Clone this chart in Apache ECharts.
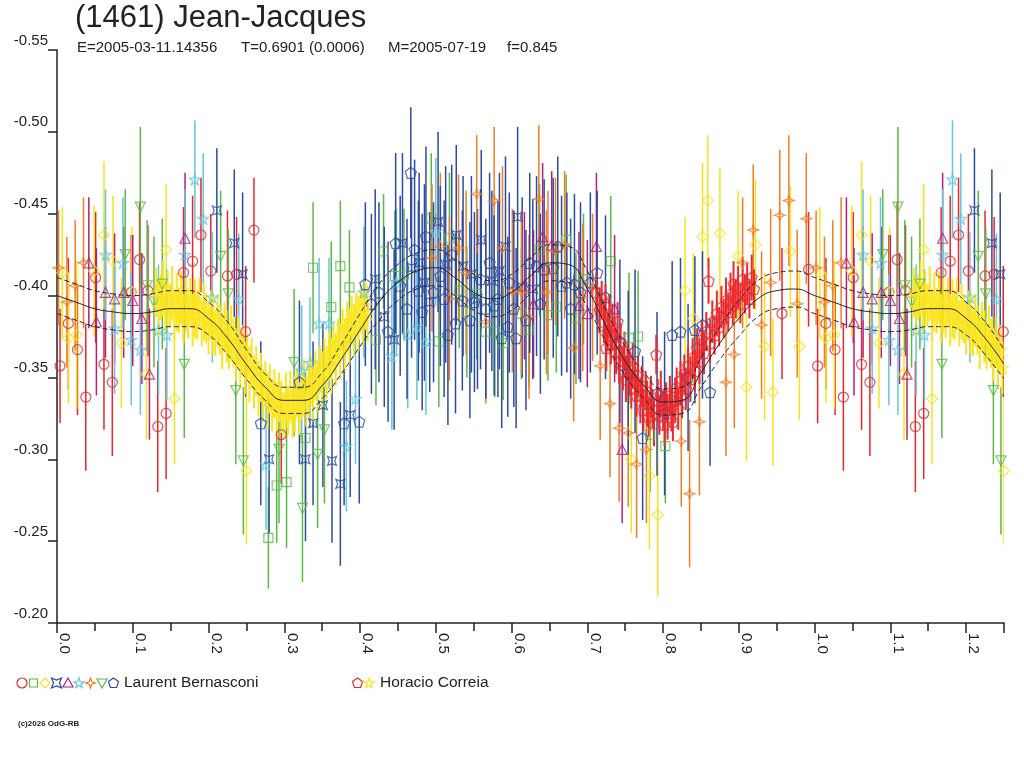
<!DOCTYPE html>
<html>
<head>
<meta charset="utf-8">
<title>(1461) Jean-Jacques</title>
<script src="https://cdn.jsdelivr.net/npm/echarts@6/dist/echarts.min.js"></script>
<style>
  html, body { margin: 0; padding: 0; background: #fff; }
  #chart { width: 1024px; height: 768px; }
</style>
</head>
<body>
<div id="chart"></div>
<script>
// observations: [phase, magnitude, error]
// Laurent Bernasconi
var lbCircle = [
  [0.004,-0.357,0.035],[0.015,-0.383,0.040],[0.027,-0.367,0.040],[0.038,-0.338,0.045],[0.051,-0.411,0.040],
  [0.062,-0.358,0.040],[0.073,-0.347,0.045],[0.098,-0.402,0.035],[0.109,-0.422,0.035],[0.120,-0.403,0.040],
  [0.133,-0.320,0.040],[0.144,-0.328,0.040],[0.167,-0.414,0.040],[0.179,-0.421,0.040],[0.190,-0.437,0.035],
  [0.203,-0.415,0.035],[0.225,-0.412,0.040],[0.237,-0.413,0.035],[0.249,-0.378,0.040],[0.260,-0.440,0.032],
  [0.296,-0.315,0.030],[0.957,-0.389,0.040],[0.992,-0.416,0.035]
];
var lbSquare = [
  [0.279,-0.252,0.031],[0.290,-0.284,0.035],[0.303,-0.286,0.040],[0.328,-0.313,0.040],[0.338,-0.417,0.040],
  [0.362,-0.393,0.040],[0.374,-0.418,0.040],[0.386,-0.405,0.035],[0.421,-0.373,0.040],[0.431,-0.427,0.035],
  [0.446,-0.412,0.040],[0.458,-0.413,0.040],[0.494,-0.447,0.040],[0.504,-0.372,0.040],[0.518,-0.435,0.040],
  [0.531,-0.403,0.035],[0.541,-0.390,0.040],[0.554,-0.401,0.040],[0.566,-0.378,0.040],[0.578,-0.378,0.040],
  [0.589,-0.371,0.035],[0.613,-0.389,0.040],[0.623,-0.379,0.035],[0.637,-0.428,0.040],[0.648,-0.388,0.040],
  [0.659,-0.393,0.040],[0.672,-0.434,0.040],[0.685,-0.386,0.040],[0.695,-0.410,0.040],[0.731,-0.421,0.040],
  [0.755,-0.374,0.040],[0.767,-0.375,0.040],[0.783,-0.315,0.035],[0.803,-0.308,0.035]
];
var lbDiamond = [
  [0.007,-0.414,0.040],[0.015,-0.374,0.040],[0.026,-0.376,0.045],[0.049,-0.415,0.040],[0.062,-0.437,0.045],
  [0.074,-0.421,0.040],[0.085,-0.371,0.040],[0.099,-0.402,0.040],[0.118,-0.352,0.040],[0.144,-0.428,0.040],
  [0.155,-0.337,0.040],[0.250,-0.293,0.045],[0.758,-0.300,0.045],[0.782,-0.290,0.045],[0.793,-0.266,0.050],
  [0.829,-0.403,0.045],[0.840,-0.386,0.040],[0.852,-0.436,0.045],[0.859,-0.458,0.040],[0.875,-0.438,0.040],
  [0.899,-0.424,0.040],[0.910,-0.344,0.045],[0.922,-0.431,0.040],[0.934,-0.369,0.045],[0.945,-0.341,0.045],
  [0.968,-0.427,0.040],[0.980,-0.369,0.045]
];
var lbBowtie = [
  [0.211,-0.452,0.038],[0.234,-0.432,0.045],[0.245,-0.413,0.050],[0.280,-0.300,0.045],[0.328,-0.300,0.050],
  [0.338,-0.322,0.050],[0.351,-0.333,0.050],[0.363,-0.299,0.050],[0.374,-0.285,0.050],[0.387,-0.327,0.050],
  [0.420,-0.410,0.055],[0.432,-0.387,0.055],[0.445,-0.373,0.055],[0.456,-0.432,0.055],[0.468,-0.417,0.055],
  [0.478,-0.420,0.055],[0.485,-0.408,0.060],[0.492,-0.396,0.055],[0.503,-0.445,0.055],[0.513,-0.419,0.060],
  [0.527,-0.437,0.055],[0.536,-0.418,0.055],[0.547,-0.413,0.060],[0.555,-0.398,0.055],[0.560,-0.434,0.055],
  [0.574,-0.409,0.055],[0.584,-0.415,0.060],[0.592,-0.430,0.055],[0.608,-0.448,0.055],[0.614,-0.405,0.055],
  [0.628,-0.404,0.055]
];
var lbTriangle = [
  [0.042,-0.420,0.040],[0.052,-0.384,0.045],[0.064,-0.402,0.040],[0.076,-0.398,0.040],[0.088,-0.402,0.040],
  [0.100,-0.397,0.040],[0.112,-0.386,0.040],[0.122,-0.352,0.040],[0.169,-0.435,0.040],[0.617,-0.406,0.045],
  [0.629,-0.395,0.045],[0.641,-0.436,0.045],[0.653,-0.431,0.045],[0.689,-0.394,0.045],[0.700,-0.389,0.045],
  [0.712,-0.430,0.045],[0.736,-0.392,0.045],[0.746,-0.306,0.045]
];
var lbStar = [
  [0.064,-0.425,0.040],[0.076,-0.380,0.040],[0.087,-0.420,0.040],[0.098,-0.373,0.040],[0.110,-0.367,0.040],
  [0.134,-0.379,0.040],[0.145,-0.376,0.040],[0.169,-0.425,0.040],[0.182,-0.471,0.036],[0.193,-0.447,0.040],
  [0.205,-0.399,0.040],[0.240,-0.398,0.040],[0.276,-0.297,0.040],[0.323,-0.354,0.040],[0.334,-0.359,0.040],
  [0.346,-0.383,0.040],[0.359,-0.383,0.040],[0.382,-0.308,0.040],[0.394,-0.337,0.040],[0.405,-0.402,0.040],
  [0.442,-0.363,0.045],[0.448,-0.408,0.045],[0.463,-0.376,0.045],[0.475,-0.381,0.045],[0.487,-0.372,0.045],
  [0.500,-0.439,0.045]
];
var lbSpark = [
  [0.002,-0.417,0.035],[0.013,-0.396,0.040],[0.024,-0.406,0.040],[0.035,-0.420,0.040],[0.495,-0.423,0.045],
  [0.506,-0.430,0.045],[0.518,-0.398,0.050],[0.530,-0.429,0.045],[0.540,-0.414,0.050],[0.554,-0.462,0.036],
  [0.566,-0.384,0.050],[0.577,-0.458,0.045],[0.588,-0.429,0.050],[0.601,-0.403,0.050],[0.613,-0.402,0.050],
  [0.623,-0.387,0.050],[0.636,-0.459,0.045],[0.646,-0.402,0.050],[0.648,-0.414,0.050],[0.658,-0.427,0.045],
  [0.670,-0.431,0.045],[0.682,-0.368,0.045],[0.694,-0.399,0.045],[0.707,-0.405,0.045],[0.717,-0.357,0.045],
  [0.730,-0.334,0.045],[0.742,-0.319,0.045],[0.754,-0.316,0.045],[0.765,-0.297,0.045],[0.778,-0.306,0.045],
  [0.824,-0.311,0.040],[0.835,-0.279,0.045],[0.848,-0.323,0.045],[0.883,-0.347,0.045],[0.894,-0.364,0.045],
  [0.905,-0.420,0.040],[0.919,-0.440,0.040],[0.930,-0.382,0.045],[0.942,-0.408,0.045],[0.954,-0.449,0.040],
  [0.966,-0.458,0.040],[0.977,-0.395,0.045],[0.989,-0.447,0.040]
];
var lbDown = [
  [0.090,-0.425,0.040],[0.110,-0.454,0.049],[0.119,-0.406,0.040],[0.128,-0.396,0.040],[0.139,-0.407,0.040],
  [0.168,-0.358,0.045],[0.216,-0.424,0.040],[0.226,-0.401,0.040],[0.236,-0.342,0.045],[0.246,-0.299,0.045],
  [0.293,-0.306,0.045],[0.313,-0.359,0.045],[0.324,-0.270,0.045],[0.344,-0.303,0.045],[0.353,-0.318,0.045]
];
var lbPentagon = [
  [0.269,-0.322,0.050],[0.320,-0.347,0.050],[0.379,-0.322,0.050],[0.399,-0.323,0.050],[0.407,-0.407,0.050],
  [0.415,-0.395,0.055],[0.425,-0.402,0.055],[0.437,-0.378,0.055],[0.447,-0.432,0.055],[0.453,-0.406,0.055],
  [0.462,-0.392,0.055],[0.467,-0.475,0.040],[0.472,-0.428,0.055],[0.477,-0.403,0.055],[0.482,-0.390,0.060],
  [0.487,-0.436,0.055],[0.497,-0.402,0.055],[0.506,-0.412,0.055],[0.511,-0.398,0.060],[0.516,-0.376,0.055],
  [0.521,-0.425,0.055],[0.526,-0.383,0.055],[0.535,-0.397,0.055],[0.545,-0.385,0.060],[0.551,-0.396,0.055],
  [0.559,-0.410,0.055],[0.566,-0.392,0.055],[0.571,-0.420,0.055],[0.577,-0.394,0.055],[0.582,-0.398,0.060],
  [0.587,-0.374,0.055],[0.595,-0.381,0.055],[0.597,-0.408,0.055],[0.603,-0.392,0.060],[0.606,-0.374,0.055],
  [0.619,-0.385,0.055],[0.624,-0.420,0.055],[0.633,-0.418,0.055],[0.638,-0.395,0.055],[0.643,-0.416,0.055],
  [0.655,-0.417,0.055],[0.661,-0.430,0.055],[0.666,-0.406,0.055],[0.673,-0.408,0.055],[0.678,-0.392,0.055],
  [0.683,-0.407,0.055],[0.691,-0.402,0.055],[0.704,-0.408,0.055],[0.713,-0.414,0.050],[0.724,-0.399,0.050],
  [0.743,-0.372,0.050],[0.754,-0.353,0.050],[0.763,-0.366,0.050],[0.773,-0.313,0.050],[0.792,-0.340,0.050],
  [0.802,-0.328,0.050],[0.812,-0.376,0.045],[0.823,-0.378,0.045],[0.833,-0.350,0.045],[0.842,-0.379,0.045],
  [0.852,-0.382,0.045],[0.862,-0.341,0.045]
];
// Horacio Correia
var hcPentagon = [
  [0.712,-0.402,0.012],[0.716,-0.391,0.014],[0.719,-0.398,0.011],[0.722,-0.384,0.013],[0.724,-0.395,0.012],
  [0.725,-0.368,0.014],[0.727,-0.378,0.012],[0.729,-0.388,0.013],[0.731,-0.370,0.012],[0.733,-0.381,0.014],
  [0.736,-0.375,0.012],[0.738,-0.365,0.013],[0.740,-0.384,0.012],[0.742,-0.360,0.014],[0.744,-0.371,0.012],
  [0.747,-0.355,0.013],[0.749,-0.366,0.012],[0.751,-0.349,0.014],[0.753,-0.360,0.012],[0.756,-0.352,0.013],
  [0.758,-0.343,0.012],[0.760,-0.357,0.014],[0.763,-0.347,0.012],[0.765,-0.339,0.013],[0.767,-0.351,0.012],
  [0.770,-0.336,0.014],[0.772,-0.345,0.012],[0.774,-0.330,0.013],[0.777,-0.342,0.012],[0.779,-0.334,0.014],
  [0.781,-0.326,0.012],[0.784,-0.338,0.013],[0.786,-0.331,0.012],[0.788,-0.322,0.014],[0.791,-0.364,0.012],
  [0.793,-0.336,0.013],[0.795,-0.327,0.012],[0.797,-0.340,0.014],[0.800,-0.330,0.012],[0.802,-0.321,0.013],
  [0.804,-0.335,0.012],[0.806,-0.326,0.014],[0.809,-0.339,0.012],[0.811,-0.330,0.013],[0.813,-0.323,0.012],
  [0.816,-0.336,0.014],[0.818,-0.344,0.012],[0.820,-0.331,0.013],[0.823,-0.348,0.012],[0.825,-0.339,0.014],
  [0.828,-0.352,0.012],[0.830,-0.343,0.013],[0.833,-0.357,0.012],[0.836,-0.349,0.014],[0.839,-0.362,0.012],
  [0.842,-0.354,0.013],[0.845,-0.368,0.012],[0.848,-0.360,0.014],[0.851,-0.373,0.012],[0.854,-0.365,0.013],
  [0.857,-0.378,0.012],[0.860,-0.409,0.014],[0.862,-0.371,0.012],[0.865,-0.384,0.013],[0.868,-0.376,0.012],
  [0.871,-0.389,0.014],[0.874,-0.381,0.012],[0.877,-0.393,0.013],[0.880,-0.386,0.012],[0.883,-0.397,0.014],
  [0.886,-0.390,0.012],[0.889,-0.401,0.013],[0.892,-0.394,0.012],[0.893,-0.407,0.014],[0.896,-0.398,0.012],
  [0.899,-0.405,0.013],[0.902,-0.395,0.012],[0.905,-0.410,0.014],[0.908,-0.401,0.012],[0.911,-0.407,0.013],
  [0.914,-0.398,0.012],[0.917,-0.411,0.014],[0.920,-0.404,0.012]
];
var hcStar = [
  [0.131,-0.402,0.015],[0.134,-0.393,0.018],[0.137,-0.399,0.014],[0.140,-0.405,0.016],[0.143,-0.391,0.015],
  [0.146,-0.398,0.017],[0.149,-0.394,0.013],[0.152,-0.402,0.016],[0.155,-0.388,0.015],[0.158,-0.396,0.018],
  [0.161,-0.391,0.014],[0.164,-0.399,0.016],[0.167,-0.386,0.015],[0.170,-0.394,0.017],[0.173,-0.389,0.015],
  [0.176,-0.397,0.014],[0.179,-0.385,0.016],[0.182,-0.392,0.018],[0.185,-0.388,0.015],[0.188,-0.395,0.016],
  [0.191,-0.383,0.014],[0.194,-0.390,0.017],[0.197,-0.386,0.015],[0.200,-0.380,0.016],[0.203,-0.388,0.015],
  [0.206,-0.382,0.018],[0.209,-0.377,0.014],[0.212,-0.385,0.016],[0.215,-0.379,0.015],[0.218,-0.372,0.017],
  [0.221,-0.381,0.015],[0.224,-0.375,0.016],[0.227,-0.369,0.014],[0.230,-0.377,0.017],[0.233,-0.371,0.015],
  [0.236,-0.364,0.016],[0.239,-0.372,0.015],[0.242,-0.360,0.017],[0.245,-0.367,0.015],[0.248,-0.356,0.016],
  [0.251,-0.363,0.014],[0.254,-0.352,0.017],[0.257,-0.359,0.015],[0.260,-0.347,0.016],[0.263,-0.354,0.015],
  [0.266,-0.343,0.017],[0.269,-0.350,0.015],[0.272,-0.339,0.016],[0.275,-0.346,0.014],[0.278,-0.336,0.017],
  [0.281,-0.343,0.015],[0.284,-0.333,0.016],[0.287,-0.340,0.015],[0.290,-0.330,0.017],[0.293,-0.338,0.015],
  [0.296,-0.332,0.016],[0.299,-0.327,0.014],[0.302,-0.336,0.017],[0.305,-0.330,0.015],[0.308,-0.338,0.016],
  [0.311,-0.328,0.015],[0.314,-0.334,0.017],[0.317,-0.341,0.015],[0.320,-0.331,0.016],[0.323,-0.338,0.014],
  [0.326,-0.344,0.017],[0.329,-0.335,0.015],[0.332,-0.342,0.016],[0.335,-0.348,0.015],[0.338,-0.340,0.017],
  [0.341,-0.351,0.015],[0.344,-0.345,0.016],[0.347,-0.355,0.014],[0.350,-0.349,0.017],[0.353,-0.359,0.015],
  [0.356,-0.353,0.016],[0.359,-0.363,0.015],[0.362,-0.357,0.017],[0.365,-0.368,0.015],[0.368,-0.361,0.016],
  [0.371,-0.372,0.014],[0.374,-0.366,0.017],[0.377,-0.377,0.015],[0.380,-0.370,0.016],[0.383,-0.381,0.015],
  [0.386,-0.375,0.017],[0.389,-0.385,0.015],[0.392,-0.379,0.016],[0.395,-0.388,0.014],[0.398,-0.383,0.017],
  [0.401,-0.392,0.015],[0.404,-0.386,0.016],[0.407,-0.394,0.015],[0.410,-0.389,0.017]
];

// fitted light curve, phase 0 .. 1 step 0.025
var fitPhase = [0,0.025,0.05,0.075,0.1,0.125,0.15,0.175,0.2,0.225,0.25,0.275,0.3,0.325,0.35,0.375,0.4,
  0.425,0.45,0.475,0.5,0.525,0.55,0.575,0.6,0.625,0.65,0.675,0.7,0.725,0.75,0.775,0.8,0.825,0.85,0.875,
  0.9,0.925,0.95,0.975,1.0];
var fitMid = [-0.400,-0.396,-0.392,-0.390,-0.389,-0.390,-0.392,-0.392,-0.386,-0.374,-0.358,-0.344,-0.336,
  -0.336,-0.345,-0.361,-0.379,-0.396,-0.408,-0.415,-0.417,-0.411,-0.402,-0.398,-0.402,-0.412,-0.420,-0.419,
  -0.404,-0.381,-0.360,-0.345,-0.335,-0.336,-0.353,-0.371,-0.386,-0.398,-0.403,-0.404,-0.400];
var fitUpper = [-0.411,-0.407,-0.403,-0.401,-0.400,-0.401,-0.403,-0.403,-0.396,-0.384,-0.367,-0.352,-0.344,
  -0.344,-0.353,-0.370,-0.389,-0.407,-0.419,-0.426,-0.428,-0.422,-0.413,-0.409,-0.413,-0.423,-0.431,-0.430,
  -0.415,-0.391,-0.369,-0.353,-0.343,-0.344,-0.362,-0.381,-0.397,-0.409,-0.414,-0.415,-0.411];
var fitLower = [-0.389,-0.385,-0.381,-0.379,-0.378,-0.379,-0.381,-0.381,-0.376,-0.364,-0.349,-0.336,-0.328,
  -0.328,-0.337,-0.352,-0.369,-0.385,-0.397,-0.404,-0.406,-0.400,-0.391,-0.387,-0.391,-0.401,-0.409,-0.408,
  -0.393,-0.371,-0.351,-0.337,-0.327,-0.328,-0.344,-0.361,-0.375,-0.387,-0.392,-0.393,-0.389];

var xTickLabels = ['0.0','0.1','0.2','0.3','0.4','0.5','0.6','0.7','0.8','0.9','1.0','1.1','1.2'];

var FONT = '"Liberation Sans", Arial, sans-serif';
var INK = '#222';

// symbol outlines in a 10x10 box
var shapes = {
  bowtie:   [[0,0],[5,2],[10,0],[8,5],[10,10],[5,8],[0,10],[2,5]],
  triangle: [[5,0],[10,9],[0,9]],
  down:     [[0,1],[10,1],[5,10]],
  diamond:  [[5,0],[10,5],[5,10],[0,5]],
  rect:     [[1,1],[9,1],[9,9],[1,9]],
  star:     [[5,0],[6.2,3.6],[10,3.7],[7,6],[8.1,9.6],[5,7.5],[1.9,9.6],[3,6],[0,3.7],[3.8,3.6]],
  spark:    [[5,0],[6.3,3.7],[10,5],[6.3,6.3],[5,10],[3.7,6.3],[0,5],[3.7,3.7]],
  pentagon: [[5,0],[10,3.6],[8.1,9.5],[1.9,9.5],[0,3.6]]
};
function toPath(pts) {
  return 'path://M' + pts.map(function (p) { return p.join(','); }).join('L') + 'Z';
}

var groups = [
  { name: 'lbCircle',   data: lbCircle,   color: '#e8262b', shape: 'circle',   size: 10, who: 'lb' },
  { name: 'lbSquare',   data: lbSquare,   color: '#5ab946', shape: 'rect',     size: 9,  who: 'lb' },
  { name: 'lbDiamond',  data: lbDiamond,  color: '#f7e31b', shape: 'diamond',  size: 11, who: 'lb' },
  { name: 'lbBowtie',   data: lbBowtie,   color: '#2d4b9e', shape: 'bowtie',   size: 9,  who: 'lb' },
  { name: 'lbTriangle', data: lbTriangle, color: '#b0217c', shape: 'triangle', size: 10, who: 'lb' },
  { name: 'lbStar',     data: lbStar,     color: '#66c6de', shape: 'star',     size: 11, who: 'lb' },
  { name: 'lbSpark',    data: lbSpark,    color: '#f27d24', shape: 'spark',    size: 11, who: 'lb' },
  { name: 'lbDown',     data: lbDown,     color: '#5ab946', shape: 'down',     size: 10, who: 'lb' },
  { name: 'lbPentagon', data: lbPentagon, color: '#2d4b9e', shape: 'pentagon', size: 11, who: 'lb' },
  { name: 'hcPentagon', data: hcPentagon, color: '#ec2a2e', shape: 'pentagon', size: 11, who: 'hc' },
  { name: 'hcStar',     data: hcStar,     color: '#fbe51d', shape: 'star',     size: 12, who: 'hc' }
];

// the plot repeats phase 0..0.25 after 1.0
function wrap(arr) {
  return arr.concat(arr.filter(function (d) { return d[0] <= 0.25; })
    .map(function (d) { return [d[0] + 1, d[1], d[2]]; }));
}
function wrapCurve(ys) {
  var out = fitPhase.map(function (p, i) { return [p, ys[i]]; });
  for (var i = 1; i < fitPhase.length && fitPhase[i] <= 0.25; i++) {
    out.push([fitPhase[i] + 1, ys[i]]);
  }
  return out;
}

function barSeries(g, width) {
  return {
    type: 'custom',
    name: g.name + 'Err',
    data: wrap(g.data),
    encode: { x: 0, y: 1 },
    clip: true,
    silent: true,
    renderItem: function (params, api) {
      var x = api.value(0), y = api.value(1), e = api.value(2);
      var a = api.coord([x, y - e]);
      var b = api.coord([x, y + e]);
      return {
        type: 'line',
        shape: { x1: a[0], y1: a[1], x2: b[0], y2: b[1] },
        style: { stroke: g.color, lineWidth: width }
      };
    }
  };
}
function symbolSeries(g) {
  return {
    type: 'scatter',
    name: g.name,
    data: wrap(g.data).map(function (d) { return [d[0], d[1]]; }),
    symbol: g.shape === 'circle' ? 'circle' : toPath(shapes[g.shape]),
    symbolSize: g.size,
    itemStyle: { color: 'rgba(0,0,0,0)', borderColor: g.color, borderWidth: 1.2 },
    silent: true,
    clip: true
  };
}
function curveSeries(ys, dashed) {
  return {
    type: 'line',
    data: wrapCurve(ys),
    smooth: true,
    showSymbol: false,
    silent: true,
    lineStyle: { color: INK, width: 1, type: dashed ? [5, 3] : 'solid' }
  };
}

var lb = groups.filter(function (g) { return g.who === 'lb'; });
var hc = groups.filter(function (g) { return g.who === 'hc'; });

var series = [];
lb.forEach(function (g) { series.push(barSeries(g, 1.5)); });
series.push(curveSeries(fitUpper, true), curveSeries(fitMid, false), curveSeries(fitLower, true));
hc.forEach(function (g) { series.push(barSeries(g, 2)); });
lb.forEach(function (g) { series.push(symbolSeries(g)); });
hc.forEach(function (g) { series.push(symbolSeries(g)); });

// legend drawn by hand: icons packed tightly like the original
function legendIcon(g, cx, cy) {
  var style = { fill: 'none', stroke: g.color, lineWidth: 1.2 };
  if (g.shape === 'circle') {
    return { type: 'circle', shape: { cx: cx, cy: cy, r: 5 }, style: style };
  }
  var pts = shapes[g.shape].map(function (p) { return [cx - 5 + p[0], cy - 5 + p[1]]; });
  return { type: 'polygon', shape: { points: pts }, style: style };
}
var lbIconX = [22, 33.5, 45, 56.5, 68, 79, 90.5, 102, 113.5];
var hcIconX = [357.5, 369];
var graphics = [
  { type: 'text', left: 75, top: 3, style: { text: '(1461) Jean-Jacques', font: '31px ' + FONT, fill: INK } },
  { type: 'text', left: 77, top: 40, style: { text: 'E=2005-03-11.14356', font: '15px ' + FONT, fill: INK } },
  { type: 'text', left: 241, top: 40, style: { text: 'T=0.6901 (0.0006)', font: '15px ' + FONT, fill: INK } },
  { type: 'text', left: 388, top: 40, style: { text: 'M=2005-07-19', font: '15px ' + FONT, fill: INK } },
  { type: 'text', left: 507, top: 40, style: { text: 'f=0.845', font: '15px ' + FONT, fill: INK } },
  { type: 'text', left: 124, top: 675, style: { text: 'Laurent Bernasconi', font: '15.5px ' + FONT, fill: INK } },
  { type: 'text', left: 380, top: 675, style: { text: 'Horacio Correia', font: '15.5px ' + FONT, fill: INK } },
  { type: 'text', left: 18, top: 720, style: { text: '(c)2026 OdG-RB', font: 'bold 8px ' + FONT, fill: INK } }
];
lb.forEach(function (g, i) { graphics.push(legendIcon(g, lbIconX[i], 683)); });
hc.forEach(function (g, i) { graphics.push(legendIcon(g, hcIconX[i], 683)); });

var chart = echarts.init(document.getElementById('chart'));
chart.setOption({
  animation: false,
  backgroundColor: '#fff',
  grid: { left: 57, right: 20, top: 50, bottom: 145 },
  xAxis: {
    type: 'value',
    min: 0,
    max: 1.25,
    interval: 0.1,
    axisLine: { lineStyle: { color: INK, width: 1.5 } },
    axisTick: { length: 10, lineStyle: { color: INK, width: 1.5 } },
    minorTick: { show: true, splitNumber: 2, length: 8, lineStyle: { color: INK, width: 1.5 } },
    splitLine: { show: false },
    axisLabel: {
      rotate: -90,
      margin: 10,
      verticalAlign: 'bottom',
      fontFamily: FONT,
      fontSize: 15,
      color: INK,
      formatter: function (v) {
        var i = Math.round(v * 10);
        return Math.abs(v * 10 - i) < 1e-6 && xTickLabels[i] ? xTickLabels[i] : '';
      }
    }
  },
  yAxis: {
    type: 'value',
    inverse: true,
    min: -0.55,
    max: -0.20,
    interval: 0.05,
    axisLine: { show: true, lineStyle: { color: INK, width: 1.5 } },
    axisTick: { show: true, length: 9, lineStyle: { color: INK, width: 1.5 } },
    splitLine: { show: false },
    axisLabel: {
      margin: 9,
      verticalAlign: 'bottom',
      padding: [0, 0, 2, 0],
      fontFamily: FONT,
      fontSize: 15,
      color: INK,
      formatter: function (v) { return v.toFixed(2); }
    }
  },
  graphic: graphics,
  series: series
});
</script>
</body>
</html>
